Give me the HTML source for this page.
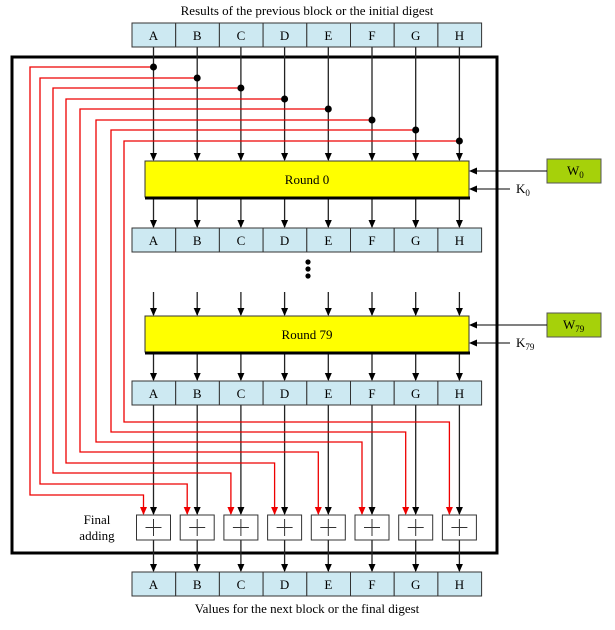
<!DOCTYPE html>
<html><head><style>body{margin:0;background:#fff} text{font-family:"Liberation Serif",serif;}</style></head><body>
<svg width="615" height="625" xmlns="http://www.w3.org/2000/svg" style="font-family:'Liberation Serif',serif">
<defs>
<marker id="ab" markerWidth="8" markerHeight="8" refX="7" refY="4" orient="auto" markerUnits="userSpaceOnUse"><path d="M0,0.5 L8,4 L0,7.5 Z" fill="#000"/></marker>
<marker id="ar" markerWidth="8" markerHeight="8" refX="7" refY="4" orient="auto" markerUnits="userSpaceOnUse"><path d="M0,0.5 L8,4 L0,7.5 Z" fill="#e00"/></marker>
</defs>
<text x="307" y="15" font-size="13" text-anchor="middle">Results of the previous block or the initial digest</text>
<text x="307" y="613" font-size="13" text-anchor="middle">Values for the next block or the final digest</text>
<rect x="12" y="57" width="485" height="496" fill="none" stroke="#000" stroke-width="3"/>
<g id="lines"></g>
<rect x="145" y="161" width="324" height="36" fill="#ffff00" stroke="#333"/>
<line x1="145" y1="198" x2="470" y2="198" stroke="#000" stroke-width="3"/>
<text x="307" y="184" font-size="13" text-anchor="middle">Round 0</text>
<rect x="145" y="316" width="324" height="36" fill="#ffff00" stroke="#333"/>
<line x1="145" y1="353" x2="470" y2="353" stroke="#000" stroke-width="3"/>
<text x="307" y="339" font-size="13" text-anchor="middle">Round 79</text>
<circle cx="308" cy="262" r="2.6"/><circle cx="308" cy="269" r="2.6"/><circle cx="308" cy="276" r="2.6"/>
<rect x="547" y="159" width="54" height="24" fill="#a6d10a" stroke="#555"/>
<text x="567" y="175" font-size="13">W<tspan font-size="9" dy="3">0</tspan></text>
<rect x="547" y="313" width="54" height="24" fill="#a6d10a" stroke="#555"/>
<text x="563" y="329" font-size="13">W<tspan font-size="9" dy="3">79</tspan></text>
<line x1="547" y1="171" x2="470" y2="171" stroke="#000" marker-end="url(#ab)"/>
<line x1="510" y1="189" x2="470" y2="189" stroke="#000" marker-end="url(#ab)"/>
<text x="516" y="193" font-size="13">K<tspan font-size="9" dy="3">0</tspan></text>
<line x1="547" y1="325" x2="470" y2="325" stroke="#000" marker-end="url(#ab)"/>
<line x1="510" y1="343" x2="470" y2="343" stroke="#000" marker-end="url(#ab)"/>
<text x="516" y="347" font-size="13">K<tspan font-size="9" dy="3">79</tspan></text>
<text x="97" y="524" font-size="13" text-anchor="middle">Final</text>
<text x="97" y="540" font-size="13" text-anchor="middle">adding</text>
</svg>
<script>
const ns="http://www.w3.org/2000/svg",svg=document.querySelector('svg'),L="ABCDEFGH";
const cx=i=>153.5+i*43.7;
function el(t,a,p){const e=document.createElementNS(ns,t);for(const k in a)e.setAttribute(k,a[k]);(p||svg).appendChild(e);return e;}
const g=document.getElementById('lines');
const xs=[30,40,53,66,80,96,111,124];
const ty=[67,78,88,99,109,120,130,141];
const by=[495,484,473,463,452,442,432,422];
for(let i=0;i<8;i++){
 const x=cx(i);
 el('line',{x1:x,y1:47,x2:x,y2:160,stroke:'#222','stroke-width':1.3,'marker-end':'url(#ab)'},g);
 el('line',{x1:x,y1:197,x2:x,y2:227,stroke:'#222','stroke-width':1.3,'marker-end':'url(#ab)'},g);
 el('line',{x1:x,y1:292,x2:x,y2:315,stroke:'#222','stroke-width':1.3,'marker-end':'url(#ab)'},g);
 el('line',{x1:x,y1:352,x2:x,y2:380,stroke:'#222','stroke-width':1.3,'marker-end':'url(#ab)'},g);
 el('line',{x1:x,y1:405,x2:x,y2:514,stroke:'#222','stroke-width':1.3,'marker-end':'url(#ab)'},g);
 el('line',{x1:x,y1:540,x2:x,y2:571,stroke:'#222','stroke-width':1.3,'marker-end':'url(#ab)'},g);
 el('polyline',{points:`${x},${ty[i]} ${xs[i]},${ty[i]} ${xs[i]},${by[i]} ${x-10},${by[i]} ${x-10},514`,fill:'none',stroke:'#e00','stroke-width':1.3,'marker-end':'url(#ar)'},g);
 el('circle',{cx:x,cy:ty[i],r:3.5,fill:'#000'},g);
 el('rect',{x:x-17,y:515,width:34,height:25,fill:'#fff',stroke:'#333'},g);
 el('line',{x1:x-8,y1:527.5,x2:x+8,y2:527.5,stroke:'#333'},g);
 el('line',{x1:x,y1:519,x2:x,y2:536,stroke:'#333'},g);
}
for(const y of [23,228,381,572]){
 for(let i=0;i<8;i++){
  el('rect',{x:132+i*43.7,y:y,width:43.7,height:24,fill:'#cde9f2',stroke:'#333'});
  const t=el('text',{x:cx(i),y:y+17,'font-size':13,'text-anchor':'middle','font-family':'Liberation Serif, serif'});t.textContent=L[i];
 }
}
</script>
</body></html>
